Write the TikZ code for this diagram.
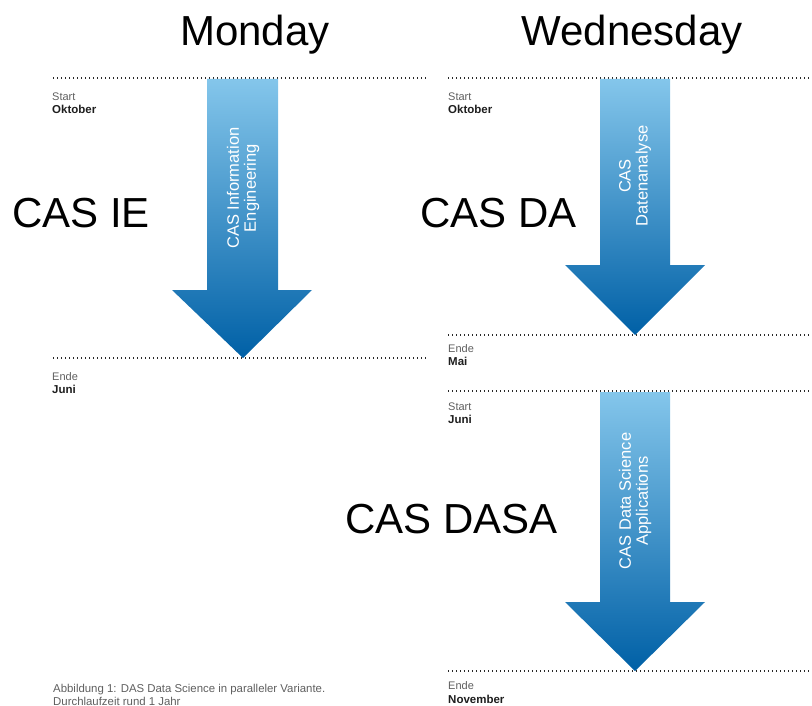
\documentclass[tikz,border=0pt]{standalone}
\usepackage{fontspec}
\setmainfont{Liberation Sans}
\definecolor{arrtop}{RGB}{132,198,235}
\definecolor{arrbot}{RGB}{0,96,166}
\definecolor{lblgrey}{RGB}{95,95,95}
\definecolor{lbldark}{RGB}{30,30,30}
\definecolor{dotgrey}{RGB}{40,40,40}
\tikzset{
  dotline/.style={draw=dotgrey, line width=1.2pt, dash pattern=on 1.2pt off 2.8pt},
  bigarrow/.style={top color=arrtop, bottom color=arrbot},
  small/.style={anchor=base west, inner sep=0pt, text=lblgrey, font=\fontsize{11}{12}\selectfont},
  month/.style={anchor=base west, inner sep=0pt, text=lbldark, font=\fontsize{11.5}{12}\selectfont\bfseries},
  big/.style={anchor=base west, inner sep=0pt, font=\fontsize{42}{46}\selectfont},
  head/.style={anchor=base, inner sep=0pt, font=\fontsize{42}{46}\selectfont},
  arrtext/.style={rotate=90, text=white, align=center, inner sep=0pt, font=\fontsize{16.5}{17}\selectfont},
  caption/.style={anchor=base west, inner sep=0pt, text=lblgrey, align=left, font=\fontsize{11.4}{13}\selectfont}
}
\begin{document}
\begin{tikzpicture}[x=1pt,y=-1pt]
\useasboundingbox (0,0) rectangle (812,706);
% headings
\node[head] (mon) at (255,46) {Monday};
\node[head] (wed) at (632,46) {Wednesday};
% dotted lines
\draw[dotline] (53,78) -- (427,78);
\draw[dotline] (53,358) -- (427,358);
\draw[dotline] (448,78) -- (812,78);
\draw[dotline] (448,335) -- (812,335);
\draw[dotline] (448,391) -- (812,391);
\draw[dotline] (448,671) -- (812,671);
% arrows
\shade[bigarrow] (207,79) -- (278,79) -- (278,290) -- (312,290) -- (243,358) -- (172,290) -- (207,290) -- cycle;
\shade[bigarrow] (600,79) -- (670,79) -- (670,265) -- (705,265) -- (635,335) -- (565,265) -- (600,265) -- cycle;
\shade[bigarrow] (600,392) -- (670,392) -- (670,602) -- (705,602) -- (635,671) -- (565,602) -- (600,602) -- cycle;
\node[arrtext] (ie) at (243,188) {CAS Information\\Engineering};
\node[arrtext] (da) at (635,176) {CAS\\Datenanalyse};
\node[arrtext] (dasa) at (635,501) {CAS Data Science\\Applications};
% labels
\node[small] (s1) at (52,101) {Start};
\node[month] (m1) at (52,114) {Oktober};
\node[small] (e1) at (52,380) {Ende};
\node[month] (m2) at (52,393) {Juni};
\node[small] (s2) at (448,101) {Start};
\node[month] (m3) at (448,114) {Oktober};
\node[small] (e2) at (448,352) {Ende};
\node[month] (m4) at (448,365) {Mai};
\node[small] (s3) at (448,410) {Start};
\node[month] (m5) at (448,423) {Juni};
\node[small] (e3) at (448,689) {Ende};
\node[month] (m6) at (448,703) {November};
% big course names
\node[big] (cie) at (12,227) {CAS IE};
\node[big] (cda) at (420,227) {CAS DA};
\node[big] (cdasa) at (345,533) {CAS DASA};
% caption
\node[caption] (cap1) at (53,692) {Abbildung 1: DAS Data Science in paralleler Variante.};
\node[caption] (cap2) at (53,705) {Durchlaufzeit rund 1 Jahr};
\end{tikzpicture}
\end{document}
